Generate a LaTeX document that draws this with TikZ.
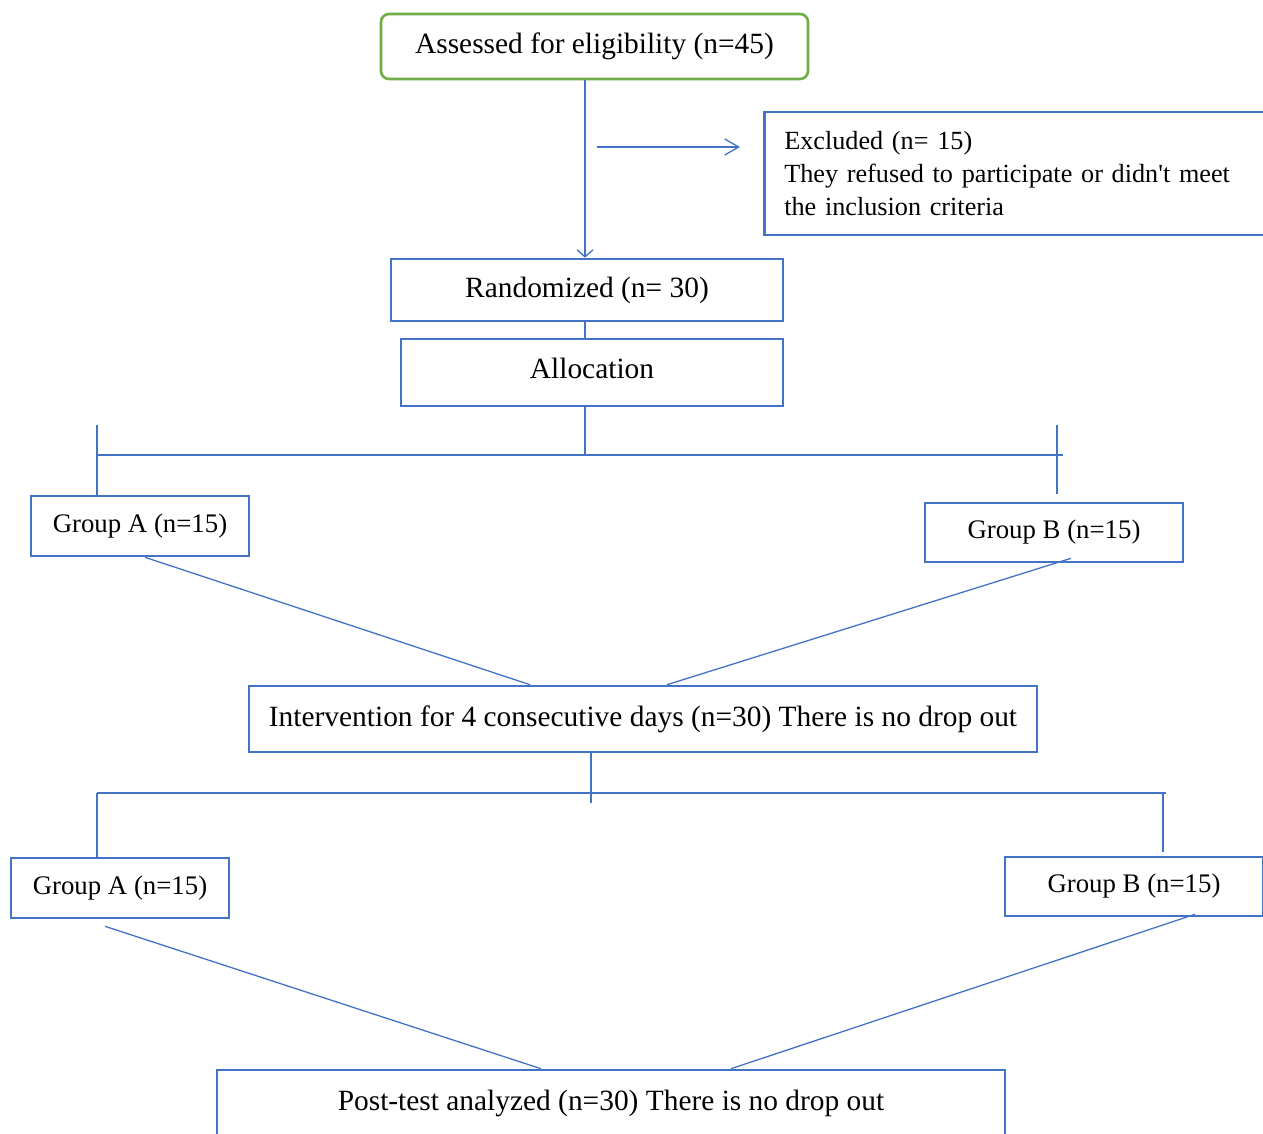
\documentclass[tikz,border=0pt]{standalone}
\usepackage{fontspec}
\setmainfont{Liberation Serif}
\usetikzlibrary{arrows.meta}
\definecolor{flowblue}{HTML}{4472C4}
\definecolor{flowgreen}{HTML}{70AD47}
\tikzset{
  box/.style={draw=flowblue, line width=1.3pt, inner sep=0pt,
    font=\fontsize{14.7}{17}\selectfont},
  groupbox/.style={box, minimum height=30pt, font=\fontsize{13.4}{16}\selectfont},
  link/.style={draw=flowblue, line width=0.65pt},
}
\begin{document}
\begin{tikzpicture}[x=0.5pt,y=-0.5pt]
      \clip (0,0) rectangle (1263,1134);
      \fill[white] (0,0) rectangle (1263,1134);
      \draw
        (594.5,46.5) node[box, draw=flowgreen, rounded corners=4pt, minimum width=213.5pt, minimum height=32.5pt] (assessed) {Assessed for eligibility (n=45)}
        (763,173.5) node[box, anchor=west, inner xsep=10pt, text width=250pt, align=left, minimum height=61.5pt, font=\fontsize{13.1}{16.5}\selectfont] (excluded) {Excluded (n= 15)\\They refused to participate or didn\textquotesingle t meet\\the inclusion criteria}
        (587,290) node[box, minimum width=196pt, minimum height=31pt] (randomized) {Randomized (n= 30)}
        (592,372.5) node[box, minimum width=191pt, minimum height=33.5pt, text height=12pt, text depth=6pt] (allocation) {Allocation}
        (140,526) node[groupbox, minimum width=109pt] (groupA) {Group A (n=15)}
        (1054,532.5) node[groupbox, minimum width=129pt, minimum height=29.5pt] (groupB) {Group B (n=15)}
        (643,719) node[box, minimum width=394pt, minimum height=33pt] (intervention) {Intervention for 4 consecutive days (n=30) There is no drop out}
        (120,888) node[groupbox, minimum width=109pt] (groupA2) {Group A (n=15)}
        (1134,886.5) node[groupbox, minimum width=129pt, minimum height=29.5pt] (groupB2) {Group B (n=15)}
        (611,1103) node[box, minimum width=394pt, minimum height=33pt] (posttest) {Post-test analyzed (n=30) There is no drop out};
      \coordinate (excltail) at (597,147);
      \coordinate (exclhead) at (740,147);
      \coordinate (allocsplit) at (585,455);
      \coordinate (splitL) at (97,455);
      \coordinate (splitR) at (1063,455);
      \coordinate (stubL) at (97,425);
      \coordinate (stubR) at (1057,425);
      \coordinate (splitL2) at (97,793);
      \coordinate (splitR2) at (1166,793);
      \coordinate (stubR2) at (1163,793);
      \begin{scope}[link]
        \draw[-{Straight Barb[length=3.5pt,width=8pt]}] (assessed.south -| allocsplit) to (randomized.north -| allocsplit);
        \draw[-{Straight Barb[length=7pt,width=8pt]}] (excltail) to (exclhead);
        \draw (randomized.south -| allocsplit) to (allocation.north -| allocsplit);
        \draw (allocation.south -| allocsplit) to (allocsplit);
        \draw (splitL) to (splitR);
        \draw (stubL) to (stubL |- groupA.north);
        \draw (stubR) to ++(0,69);
        \draw ([xshift=2.5pt]groupA.south) to ([xshift=-56.5pt]intervention.north);
        \draw ([xshift=8.5pt,yshift=2.5pt]groupB.south) to ([xshift=12pt]intervention.north);
        \draw ([xshift=-26pt]intervention.south) to ++(0,50);
        \draw (splitL2) to (splitR2);
        \draw (splitL2) to (splitL2 |- groupA2.north);
        \draw (stubR2) to ++(0,59);
        \draw ([xshift=-7.5pt,yshift=-3.5pt]groupA2.south) to ([xshift=-35pt]posttest.north);
        \draw ([xshift=30.5pt,yshift=1.5pt]groupB2.south) to ([xshift=60pt]posttest.north);
      \end{scope}
    \end{tikzpicture}
\end{document}
